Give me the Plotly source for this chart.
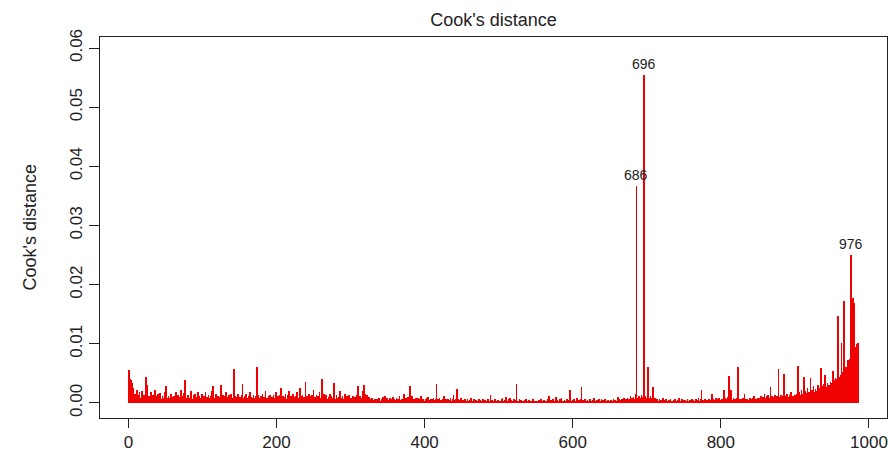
import plotly.graph_objects as go

# Cook's distance values, in units of 1e-4, read block by block (50 observations each)
b0 = [55, 40, 38, 37, 34, 12, 26, 8, 15, 10,
      6, 22, 14, 5, 18, 9, 7, 20, 11, 4,
      13, 8, 16, 44, 30, 9, 6, 12, 5, 18,
      10, 7, 14, 4, 9, 22, 6, 11, 8, 15,
      5, 10, 17, 7, 4, 12, 9, 6, 19, 8]
b1 = [28, 9, 6, 12, 4, 8, 15, 5, 10, 7,
      3, 11, 6, 18, 9, 5, 14, 7, 4, 10,
      22, 8, 6, 12, 17, 39, 10, 5, 8, 14,
      6, 9, 4, 20, 11, 7, 5, 13, 8, 16,
      6, 4, 10, 19, 7, 12, 5, 9, 15, 6]
b2 = [8, 12, 5, 18, 7, 10, 4, 14, 9, 6,
      11, 20, 7, 29, 13, 5, 9, 16, 6, 8,
      12, 4, 10, 7, 30, 9, 5, 14, 6, 11,
      8, 18, 4, 10, 7, 13, 5, 9, 15, 6,
      8, 4, 57, 12, 7, 10, 5, 16, 9, 6]
b3 = [10, 7, 13, 32, 8, 5, 11, 6, 15, 9,
      4, 12, 7, 18, 5, 10, 8, 6, 14, 9,
      4, 11, 7, 61, 13, 6, 9, 5, 12, 8,
      16, 4, 10, 7, 20, 6, 9, 5, 11, 8,
      14, 6, 4, 10, 7, 13, 5, 9, 18, 6]
b4 = [8, 11, 5, 14, 7, 26, 9, 6, 12, 4,
      10, 16, 7, 5, 13, 8, 20, 6, 9, 11,
      4, 15, 7, 10, 5, 12, 8, 18, 6, 9,
      4, 25, 11, 7, 14, 5, 10, 8, 36, 6,
      12, 9, 4, 16, 7, 11, 5, 13, 8, 22]
b5 = [6, 10, 5, 14, 8, 12, 4, 18, 9, 7,
      40, 11, 6, 15, 5, 9, 13, 7, 4, 10,
      8, 16, 5, 12, 6, 9, 11, 34, 7, 4,
      14, 8, 5, 10, 6, 20, 9, 4, 12, 7,
      5, 15, 8, 6, 11, 4, 9, 13, 5, 7]
b6 = [8, 5, 12, 4, 7, 10, 3, 6, 14, 29,
      9, 5, 11, 4, 8, 20, 6, 30, 16, 12,
      9, 14, 7, 5, 10, 3, 6, 4, 8, 2,
      5, 3, 7, 4, 2, 6, 3, 9, 5, 2,
      4, 7, 3, 10, 5, 12, 6, 4, 8, 3]
b7 = [5, 3, 8, 4, 6, 2, 10, 4, 7, 3,
      5, 9, 3, 6, 4, 11, 5, 3, 7, 4,
      2, 15, 6, 3, 8, 4, 5, 10, 3, 29,
      6, 4, 12, 5, 3, 7, 4, 9, 2, 5,
      8, 3, 6, 4, 11, 3, 5, 7, 2, 4]
b8 = [6, 3, 8, 4, 10, 3, 5, 7, 2, 6,
      4, 9, 3, 5, 7, 32, 4, 6, 3, 8,
      2, 5, 4, 7, 3, 12, 5, 3, 6, 4,
      2, 7, 3, 5, 9, 4, 3, 6, 14, 5,
      3, 7, 4, 24, 6, 3, 5, 2, 8, 4]
b9 = [3, 5, 2, 4, 6, 3, 2, 7, 4, 3,
      5, 2, 8, 3, 4, 2, 6, 3, 5, 2,
      4, 3, 7, 2, 5, 3, 4, 2, 6, 3,
      2, 5, 3, 4, 2, 7, 3, 4, 14, 2,
      5, 3, 4, 2, 6, 3, 2, 4, 5, 3]
b10 = [2, 4, 3, 6, 8, 2, 4, 3, 5, 10,
       3, 2, 4, 7, 9, 3, 5, 2, 4, 3,
       6, 2, 5, 32, 3, 4, 2, 6, 3, 5,
       2, 4, 3, 2, 5, 3, 6, 2, 4, 3,
       5, 2, 3, 4, 2, 6, 3, 2, 4, 3]
b11 = [2, 4, 3, 5, 2, 3, 6, 2, 4, 3,
       5, 2, 3, 4, 2, 6, 3, 12, 4, 2,
       5, 3, 6, 2, 4, 3, 10, 2, 5, 3,
       4, 2, 6, 3, 8, 2, 4, 3, 5, 2,
       3, 6, 4, 2, 5, 22, 3, 4, 2, 5]
b12 = [3, 6, 2, 4, 3, 8, 2, 5, 3, 4,
       6, 27, 3, 5, 2, 4, 7, 3, 2, 5,
       4, 3, 6, 2, 4, 3, 5, 2, 8, 3,
       4, 2, 5, 3, 6, 2, 4, 3, 7, 2,
       5, 4, 3, 6, 2, 4, 3, 5, 2, 4]
b13 = [3, 5, 2, 4, 6, 3, 5, 2, 4, 3,
       10, 6, 4, 2, 5, 3, 7, 4, 8, 3,
       5, 6, 4, 9, 5, 7, 3, 12, 6, 8,
       5, 10, 7, 4, 15, 367, 8, 6, 11, 5,
       9, 7, 14, 6, 10, 555, 8, 12, 6, 9]
b14 = [10, 61, 8, 6, 12, 5, 9, 27, 6, 4,
       8, 3, 5, 7, 2, 4, 6, 3, 5, 2,
       4, 8, 3, 5, 2, 6, 3, 4, 2, 5,
       3, 7, 2, 4, 3, 5, 2, 6, 3, 4,
       2, 5, 3, 8, 2, 4, 3, 6, 2, 5]
b15 = [3, 5, 2, 4, 6, 3, 2, 5, 4, 3,
       7, 2, 5, 3, 4, 6, 2, 5, 3, 8,
       4, 2, 6, 22, 3, 5, 4, 2, 7, 3,
       5, 2, 4, 6, 3, 5, 2, 15, 4, 6,
       3, 5, 8, 2, 4, 6, 3, 9, 5, 4]
b16 = [4, 6, 3, 22, 5, 8, 4, 7, 10, 5,
       46, 8, 6, 22, 5, 4, 9, 3, 6, 5,
       8, 4, 61, 12, 5, 7, 3, 6, 4, 8,
       5, 15, 3, 6, 4, 7, 5, 3, 9, 4,
       6, 5, 8, 3, 12, 6, 4, 7, 5, 9]
b17 = [6, 8, 5, 12, 7, 4, 10, 6, 15, 8,
       5, 11, 7, 14, 6, 9, 27, 8, 12, 6,
       10, 7, 13, 8, 5, 11, 9, 57, 10, 7,
       14, 8, 12, 6, 49, 9, 11, 7, 15, 8,
       10, 6, 13, 9, 18, 7, 12, 10, 8, 14]
b18 = [12, 9, 15, 62, 11, 18, 10, 14, 22, 12,
       16, 44, 13, 20, 11, 17, 25, 14, 19, 12,
       42, 16, 22, 13, 28, 18, 15, 24, 20, 17,
       30, 21, 26, 19, 59, 23, 28, 22, 32, 25,
       47, 27, 24, 33, 26, 30, 28, 36, 29, 34]
b19 = [54, 32, 38, 30, 42, 35, 40, 147, 36, 44,
       38, 48, 101, 40, 52, 173, 46, 55, 60, 50,
       65, 72, 68, 75, 70, 250, 80, 177, 85, 169,
       90, 95, 88, 100, 101]

blocks = [b0, b1, b2, b3, b4, b5, b6, b7, b8, b9,
          b10, b11, b12, b13, b14, b15, b16, b17, b18, b19]
cook = [v * 1e-4 for blk in blocks for v in blk]
obs = list(range(1, len(cook) + 1))

x_ticks = [0, 200, 400, 600, 800, 1000]
y_ticks = [0.00, 0.01, 0.02, 0.03, 0.04, 0.05, 0.06]
y_ticktext = ["0.00", "0.01", "0.02", "0.03", "0.04", "0.05", "0.06"]

# label the three largest
top3 = sorted(range(len(cook)), key=lambda i: cook[i], reverse=True)[:3]

FONT = "Liberation Sans, Arial, sans-serif"
TXT = "#222222"

fig = go.Figure()
fig.add_bar(x=obs, y=cook, width=1.0,
            marker=dict(color="#f00000", line=dict(width=0)),
            hoverinfo="x+y")

for i in top3:
    fig.add_annotation(x=obs[i], y=cook[i], text=str(obs[i]), showarrow=False,
                       yanchor="bottom", xanchor="center", yshift=1,
                       font=dict(family=FONT, size=14, color=TXT))

fig.add_annotation(xref="paper", yref="paper", x=0, y=0.5, xshift=-71,
                   text="Cook's distance", textangle=-90, showarrow=False,
                   xanchor="center", yanchor="middle",
                   font=dict(family=FONT, size=18, color=TXT))

fig.update_layout(
    width=891, height=463,
    margin=dict(l=100, r=4, t=37, b=45),
    paper_bgcolor="white", plot_bgcolor="white",
    bargap=0, showlegend=False,
    title=dict(text="Cook's distance", x=0.5, xref="paper", xanchor="center",
               y=1 - 20 / 463, yref="container", yanchor="middle",
               font=dict(family=FONT, size=18, color=TXT)),
    font=dict(family=FONT, size=17, color=TXT),
)
fig.update_xaxes(range=[-38.4, 1024.4], tickvals=x_ticks, ticks="outside", ticklen=9,
                 tickcolor="#222", showline=True, mirror=True, linecolor="#222",
                 linewidth=1, showgrid=False, zeroline=False,
                 tickfont=dict(family=FONT, size=17, color=TXT))
fig.update_yaxes(range=[-0.00254, 0.06186], tickvals=y_ticks, ticktext=y_ticktext,
                 tickangle=-90, ticks="outside", ticklen=10, tickcolor="#222",
                 showline=True, mirror=True, linecolor="#222", linewidth=1,
                 showgrid=False, zeroline=False,
                 tickfont=dict(family=FONT, size=17, color=TXT))

fig.write_html("out.html")
